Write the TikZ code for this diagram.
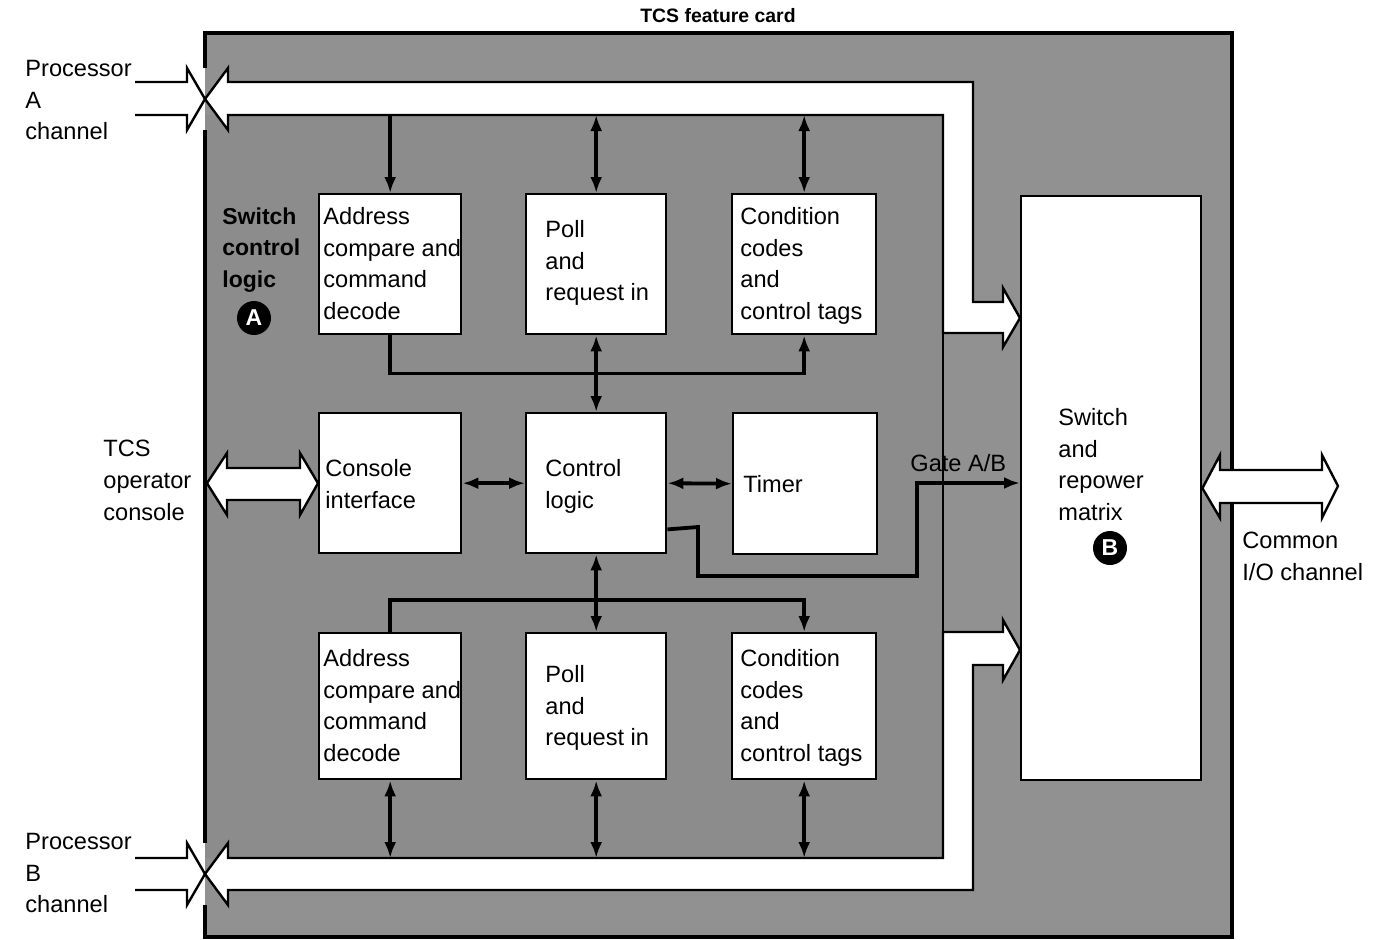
\documentclass[tikz,border=0pt]{standalone}
\usepackage{fontspec}
\setmainfont{Liberation Sans}
\usetikzlibrary{arrows.meta,calc}

\definecolor{cardgray}{gray}{0.57}
\definecolor{logicgray}{gray}{0.55}

\begin{document}
\begin{tikzpicture}[x=0.5pt,y=-0.5pt,
  line join=miter,
  cardline/.style={draw=black,line width=1.8pt},
  edge/.style={draw=black,line width=1.2pt},
  bus/.style={draw=black,line width=1.2pt,fill=white},
  box/.style={draw=black,line width=1.2pt,fill=white,inner sep=0pt,anchor=north west},
  txt/.style={font=\fontsize{11.8}{15.8}\selectfont,align=left,inner sep=0pt,anchor=north west},
  boldtxt/.style={txt,font=\fontsize{11.5}{15.8}\selectfont\bfseries},
  wire/.style={line width=1.9pt},
  tip/.tip={Latex[length=8pt,width=6pt]},
  one/.style={wire,-tip},
  both/.style={wire,tip-tip},
  badge/.style={circle,fill=black,text=white,inner sep=0pt,minimum size=17pt,
    font=\fontsize{11.5}{11.5}\selectfont\bfseries}
]
\useasboundingbox (0,0) rectangle (1392,939);

% feature card and the switch control logic area
\fill[cardgray] (205,33) rectangle (1232,937);
\fill[logicgray] (205,115) rectangle (943,858);
\draw[edge] (943,115) -- (943,858);
\draw[cardline] (205,68) -- (205,33) -- (1232,33) -- (1232,937) -- (205,937) -- (205,905);
\draw[cardline] (205,843) -- (205,130);

% processor A channel bus
\draw[bus] (205,99) -- (228,68) -- (228,82) -- (973,82) -- (973,302) -- (1003,302)
  -- (1003,288) -- (1020,318) -- (1003,347) -- (1003,333) -- (943,333) -- (943,115)
  -- (228,115) -- (228,130) -- cycle;
% processor B channel bus
\draw[bus] (205,874) -- (228,843) -- (228,858) -- (943,858) -- (943,632) -- (1003,632)
  -- (1003,620) -- (1020,650) -- (1003,680) -- (1003,665) -- (973,665) -- (973,890)
  -- (228,890) -- (228,905) -- cycle;
% incoming channel arrows
\draw[edge] (135,82) -- (187,82) -- (187,68) -- (205,99) -- (187,130) -- (187,115) -- (135,115);
\draw[edge] (135,858) -- (187,858) -- (187,843) -- (205,874) -- (187,905) -- (187,890) -- (135,890);

\coordinate (busAedge) at (0,115);
\coordinate (busBedge) at (0,858);

% logic blocks
\node[box,minimum width=71pt,minimum height=70pt] (addrA) at (318,193) {};
\node[box,minimum width=70pt,minimum height=70pt] (pollA) at (525,193) {};
\node[box,minimum width=72pt,minimum height=70pt] (condA) at (731,193) {};
\node[box,minimum width=71pt,minimum height=70pt] (cons) at (318,412) {};
\node[box,minimum width=70pt,minimum height=70pt] (ctrl) at (525,412) {};
\node[box,minimum width=72pt,minimum height=70.5pt] (timer) at (732,412) {};
\node[box,minimum width=71pt,minimum height=73pt] (addrB) at (318,632) {};
\node[box,minimum width=70pt,minimum height=73pt] (pollB) at (525,632) {};
\node[box,minimum width=72pt,minimum height=73pt] (condB) at (731,632) {};
\node[box,minimum width=90pt,minimum height=292pt] (sw) at (1020,195) {};

% console and common channel arrows
\draw[bus] (cons.west -| 207,0) -- (227,453) -- (227,468) -- (300,468) -- (300,453)
  -- (cons.west) -- (300,515) -- (300,500) -- (227,500) -- (227,515) -- cycle;
\draw[bus] (sw.east) -- (1220,455) -- (1220,470) -- (1322,470) -- (1322,455)
  -- (1338,486) -- (1322,518) -- (1322,503) -- (1220,503) -- (1220,518) -- cycle;

% block texts
\node[txt] (addrAt) at (323,207) {Address\\compare and\\command\\decode};
\node[txt] (pollAt) at (545,220) {Poll\\and\\request in};
\node[txt] (condAt) at (740,207) {Condition\\codes\\and\\control tags};
\node[txt] (const) at (325,459) {Console\\interface};
\node[txt] (ctrlt) at (545,459) {Control\\logic};
\node[txt] (timert) at (743,475) {Timer};
\node[txt] (addrBt) at (323,649) {Address\\compare and\\command\\decode};
\node[txt] (pollBt) at (545,665) {Poll\\and\\request in};
\node[txt] (condBt) at (740,649) {Condition\\codes\\and\\control tags};
\node[txt] (swt) at (1058,408) {Switch\\and\\repower\\matrix};
\node[badge] (badgeB) at (1110,548) {B};
\node[boldtxt] (sclt) at (222,207) {Switch\\control\\logic};
\node[badge] (badgeA) at (254,318) {A};

% outside labels
\node[font=\fontsize{9.7}{12}\selectfont\bfseries,inner sep=0pt,anchor=base] (title) at (718,22) {TCS feature card};
\node[txt] (procA) at (25,60) {Processor\\A\\channel};
\node[txt] (procB) at (25,833) {Processor\\B\\channel};
\node[txt] (opcons) at (103,440) {TCS\\operator\\console};
\node[txt] (common) at (1242,532) {Common\\I/O channel};
\node[font=\fontsize{11.8}{14}\selectfont,inner sep=0pt,anchor=base west] (gate) at (910,471) {Gate A/B};

% bus taps, processor A side
\draw[one] (busAedge -| addrA.north) -- (addrA.north);
\draw[both] (busAedge -| pollA.north) -- (pollA.north);
\draw[both] (busAedge -| condA.north) -- (condA.north);
% bus taps, processor B side
\draw[both] (addrB.south) -- (addrB.south |- busBedge);
\draw[both] (pollB.south) -- (pollB.south |- busBedge);
\draw[both] (condB.south) -- (condB.south |- busBedge);

% internal connections
\draw[one] (addrA.south) -- ++(0,38) -| (condA.south);
\draw[one] (addrB.north) -- ++(0,-32) -| (condB.north);
\draw[both] (pollA.south) -- (ctrl.north);
\draw[both] (ctrl.south) -- (pollB.north);
\draw[both] (cons.east) -- (ctrl.west);
\draw[both] (ctrl.east) -- (timer.west);
\draw[one] ($(ctrl.south east)+(0,-25)$) -- (698,527) -- (698,576) -- (917,576)
  -- (917,483) -- (sw.west |- 917,483);
\end{tikzpicture}
\end{document}
